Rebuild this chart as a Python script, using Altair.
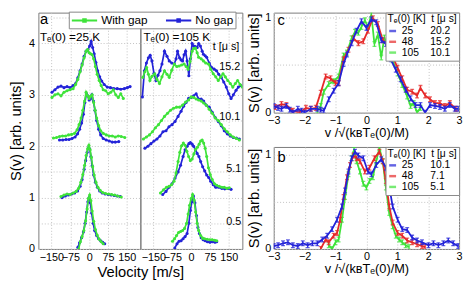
import altair as alt
import pandas as pd

# ---------------- Panel a : Te(0) = 25 K (left half) ----------------
AL_T05_NOGAP_V = [-45, -38, -30, -23, -16, -10, -5, 0, 5, 10, 16, 22, 30, 38, 46, 54, 62]
AL_T05_NOGAP_Y = [0.03, 0.12, 0.22, 0.33, 0.5, 0.72, 0.92, 1.0, 0.9, 0.7, 0.5, 0.36, 0.26, 0.2, 0.16, 0.13, 0.1]
AL_T05_GAP_V = [-42, -35, -28, -21, -14, -8, -3, 2, 7, 12, 18, 25, 32, 40, 48, 56]
AL_T05_GAP_Y = [0.0, 0.14, 0.24, 0.36, 0.55, 0.78, 0.98, 1.05, 0.94, 0.74, 0.54, 0.38, 0.27, 0.19, 0.14, 0.1]

AL_T51_NOGAP_V = [-108, -95, -82, -70, -58, -46, -36, -28, -20, -14, -8, -3, 2, 7, 12, 18, 25, 33, 42, 52, 64, 76, 88, 100, 112, 124]
AL_T51_NOGAP_Y = [1.0, 1.03, 1.05, 1.07, 1.09, 1.13, 1.22, 1.35, 1.55, 1.72, 1.88, 1.97, 1.95, 1.8, 1.62, 1.44, 1.3, 1.2, 1.13, 1.09, 1.07, 1.06, 1.05, 1.04, 1.03, 1.02]
AL_T51_GAP_V = [-112, -100, -88, -76, -64, -52, -42, -33, -25, -18, -12, -6, -1, 4, 9, 14, 20, 27, 35, 44, 54, 66, 78, 90, 102, 114, 128]
AL_T51_GAP_Y = [1.02, 1.05, 1.07, 1.06, 1.09, 1.12, 1.18, 1.3, 1.45, 1.63, 1.82, 1.95, 2.02, 1.93, 1.78, 1.6, 1.44, 1.3, 1.2, 1.14, 1.1, 1.08, 1.07, 1.06, 1.05, 1.03, 1.01]

AL_T101_NOGAP_V = [-118, -105, -92, -80, -68, -56, -46, -38, -30, -23, -17, -11, -5, 0, 5, 11, 17, 23, 30, 38, 46, 56, 68, 80, 92, 104, 118]
AL_T101_NOGAP_Y = [2.12, 2.12, 2.13, 2.13, 2.15, 2.18, 2.24, 2.33, 2.45, 2.62, 2.85, 3.02, 2.98, 2.9, 2.92, 3.0, 2.88, 2.7, 2.5, 2.33, 2.22, 2.15, 2.12, 2.1, 2.08, 2.08, 2.09]
AL_T101_GAP_V = [-142, -130, -118, -106, -94, -82, -70, -58, -48, -40, -32, -25, -18, -12, -6, 0, 6, 12, 18, 24, 30, 38, 46, 56, 68, 80, 92, 104, 116, 128, 142]
AL_T101_GAP_Y = [2.16, 2.17, 2.19, 2.2, 2.2, 2.22, 2.23, 2.25, 2.32, 2.42, 2.55, 2.7, 2.88, 3.05, 2.98, 2.93, 2.97, 3.0, 2.85, 2.7, 2.55, 2.4, 2.3, 2.25, 2.22, 2.2, 2.2, 2.18, 2.2, 2.19, 2.17]

AL_T152_NOGAP_V = [-148, -136, -124, -112, -100, -88, -76, -64, -54, -45, -36, -28, -20, -12, -5, 2, 8, 14, 20, 27, 34, 42, 50, 60, 72, 85, 98, 112, 126, 140, 152, 163]
AL_T152_NOGAP_Y = [3.05, 3.1, 3.15, 3.17, 3.14, 3.16, 3.14, 3.18, 3.22, 3.33, 3.47, 3.6, 3.75, 3.85, 3.88, 3.95, 4.04, 3.92, 3.8, 3.63, 3.47, 3.35, 3.27, 3.2, 3.15, 3.14, 3.12, 3.12, 3.11, 3.12, 3.14, 3.16]
AL_T152_GAP_V = [-148, -136, -124, -112, -100, -88, -76, -64, -54, -45, -36, -28, -20, -12, -6, 0, 6, 12, 18, 25, 32, 40, 48, 56, 66, 76, 86, 96, 106, 116, 126, 136]
AL_T152_GAP_Y = [2.95, 3.0, 3.02, 2.98, 3.05, 3.08, 3.1, 3.12, 3.2, 3.3, 3.45, 3.58, 3.72, 3.85, 3.88, 3.82, 3.8, 3.78, 3.7, 3.55, 3.4, 3.28, 3.18, 3.1, 3.08, 3.02, 3.05, 3.1, 3.0, 2.95, 3.02, 2.93]

# ---------------- Panel a : Te(0) = 105 K (right half) ----------------
AR_T05_NOGAP_V = [-65, -56, -48, -40, -32, -24, -16, -9, -3, 3, 9, 15, 21, 27, 33, 40, 48, 56, 65, 75, 85, 95, 102]
AR_T05_NOGAP_Y = [0.02, 0.1, 0.15, 0.16, 0.2, 0.24, 0.3, 0.5, 0.75, 0.92, 1.03, 0.9, 0.65, 0.42, 0.3, 0.22, 0.18, 0.16, 0.14, 0.13, 0.14, 0.13, 0.14]
AR_T05_GAP_V = [-74, -66, -58, -50, -42, -34, -26, -18, -12, -6, 0, 6, 12, 18, 24, 30, 38, 46, 54, 64, 74, 84, 94, 102]
AR_T05_GAP_Y = [0.15, 0.2, 0.26, 0.32, 0.34, 0.36, 0.4, 0.5, 0.68, 0.85, 0.98, 1.06, 0.95, 0.72, 0.5, 0.36, 0.26, 0.21, 0.2, 0.19, 0.18, 0.18, 0.17, 0.16]

AR_T51_NOGAP_V = [-113, -100, -88, -76, -64, -52, -42, -32, -24, -16, -9, -3, 4, 10, 17, 24, 31, 38, 46, 54, 62, 70, 78, 88, 98, 110, 122, 134, 146, 159]
AR_T51_NOGAP_Y = [1.06, 1.12, 1.2, 1.27, 1.38, 1.5, 1.63, 1.8, 1.93, 2.0, 2.05, 2.07, 2.04, 2.0, 1.93, 1.86, 1.8, 1.7, 1.6, 1.52, 1.44, 1.39, 1.32, 1.25, 1.2, 1.2, 1.18, 1.17, 1.18, 1.16]
AR_T51_GAP_V = [-122, -110, -98, -88, -78, -68, -60, -52, -45, -38, -31, -24, -17, -10, -3, 4, 11, 18, 25, 32, 38, 44, 50, 56, 62, 69, 76, 84, 93, 102, 112, 122, 132, 142, 152]
AR_T51_GAP_Y = [1.09, 1.15, 1.2, 1.22, 1.25, 1.32, 1.48, 1.7, 1.88, 2.01, 2.06, 2.02, 1.9, 1.8, 1.72, 1.75, 1.85, 1.94, 1.98, 2.04, 2.1, 2.12, 2.06, 1.96, 1.8, 1.58, 1.45, 1.35, 1.27, 1.24, 1.22, 1.2, 1.2, 1.18, 1.19]

AR_T101_NOGAP_V = [-184, -172, -160, -148, -136, -124, -112, -100, -88, -76, -64, -52, -40, -30, -20, -10, 0, 10, 20, 30, 40, 50, 60, 72, 84, 96, 108, 120, 132, 144, 156, 168, 180, 192]
AR_T101_NOGAP_Y = [1.96, 2.0, 2.05, 2.1, 2.14, 2.2, 2.28, 2.3, 2.38, 2.42, 2.48, 2.58, 2.68, 2.78, 2.85, 2.93, 2.95, 2.98, 3.02, 2.92, 2.92, 2.88, 2.8, 2.76, 2.66, 2.56, 2.48, 2.4, 2.3, 2.24, 2.2, 2.17, 2.16, 2.14]
AR_T101_GAP_V = [-190, -178, -166, -154, -142, -130, -118, -106, -94, -82, -70, -58, -46, -34, -22, -10, 0, 10, 20, 30, 40, 50, 60, 72, 84, 96, 108, 120, 132, 144, 156, 168, 180, 192]
AR_T101_GAP_Y = [2.14, 2.18, 2.22, 2.28, 2.36, 2.42, 2.5, 2.58, 2.64, 2.7, 2.74, 2.76, 2.76, 2.8, 2.86, 2.9, 2.96, 2.95, 2.92, 2.9, 2.88, 2.84, 2.8, 2.72, 2.64, 2.55, 2.5, 2.42, 2.34, 2.28, 2.22, 2.18, 2.15, 2.12]

AR_T152_NOGAP_V = [-194, -186, -178, -170, -163, -156, -148, -140, -132, -124, -116, -106, -96, -87, -77, -67, -60, -54, -46, -40, -34, -28, -22, -16, -9, -3, 4, 10, 17, 24, 30, 37, 44, 49, 56, 62, 72, 82, 92, 101, 110, 120, 130, 140, 150, 159, 168, 179, 188, 198]
AR_T152_NOGAP_Y = [2.96, 3.47, 3.62, 3.72, 3.77, 3.66, 3.42, 3.28, 3.38, 3.47, 3.6, 3.85, 3.75, 3.66, 3.62, 3.6, 3.7, 3.85, 3.72, 3.68, 3.66, 3.78, 3.85, 3.66, 3.37, 3.7, 4.0, 3.95, 3.94, 3.92, 4.0, 3.95, 3.85, 3.79, 3.76, 3.73, 3.62, 3.53, 3.5, 3.47, 3.4, 3.34, 3.25, 3.15, 3.02, 2.93, 3.0, 3.09, 3.15, 3.18]
AR_T152_GAP_V = [-192, -184, -177, -170, -164, -156, -145, -136, -126, -116, -106, -96, -87, -77, -67, -57, -48, -38, -28, -20, -12, -4, 4, 10, 17, 24, 30, 40, 49, 58, 69, 78, 88, 98, 108, 118, 127, 136, 146, 156, 166, 176, 185, 195, 204]
AR_T152_GAP_Y = [3.34, 3.45, 3.53, 3.4, 3.28, 3.36, 3.41, 3.3, 3.22, 3.35, 3.47, 3.4, 3.34, 3.48, 3.6, 3.55, 3.56, 3.58, 3.6, 3.55, 3.5, 3.65, 3.85, 3.9, 3.91, 3.82, 3.73, 3.7, 3.66, 3.62, 3.6, 3.5, 3.41, 3.35, 3.28, 3.35, 3.41, 3.35, 3.28, 3.22, 3.15, 3.22, 3.28, 3.2, 3.15]

# ---------------- Panel c ----------------
C_25_V = [-3.0, -2.86, -2.75, -2.59, -2.48, -2.38, -2.22, -2.1, -2.0, -1.8, -1.59, -1.48, -1.38, -1.22, -1.06, -0.9, -0.74, -0.63, -0.48, -0.32, -0.16, 0.0, 0.16, 0.32, 0.48, 0.63, 0.79, 0.95, 1.11, 1.27, 1.43, 1.59, 1.75, 1.9, 2.06, 2.22, 2.38, 2.54, 2.7, 2.86, 2.97]
C_25_S = [0.07, 0.05, 0.04, 0.07, 0.03, 0.0, 0.04, 0.02, 0.0, 0.04, 0.04, 0.03, 0.02, 0.14, 0.23, 0.31, 0.51, 0.61, 0.73, 0.86, 0.96, 0.89, 0.98, 0.95, 0.76, 0.72, 0.56, 0.45, 0.35, 0.24, 0.15, 0.08, 0.08, 0.0, 0.08, 0.07, 0.06, 0.04, 0.08, 0.04, 0.04]
C_48_V = [-2.95, -2.75, -2.59, -2.38, -2.17, -1.96, -1.8, -1.64, -1.48, -1.32, -1.16, -1.0, -0.9, -0.74, -0.58, -0.42, -0.26, -0.1, 0.05, 0.21, 0.37, 0.53, 0.69, 0.85, 1.01, 1.16, 1.32, 1.48, 1.64, 1.75, 1.9, 2.06, 2.22, 2.38, 2.54, 2.7, 2.9]
C_48_S = [0.06, 0.09, 0.08, 0.02, 0.0, 0.05, 0.04, 0.05, 0.21, 0.38, 0.36, 0.31, 0.31, 0.56, 0.66, 0.78, 0.73, 0.75, 0.86, 0.99, 0.93, 0.76, 0.72, 0.59, 0.47, 0.36, 0.24, 0.22, 0.18, 0.26, 0.18, 0.14, 0.1, 0.1, 0.07, 0.1, 0.04]
C_105_V = [-1.59, -1.48, -1.38, -1.22, -1.06, -0.9, -0.74, -0.63, -0.48, -0.37, -0.26, -0.16, -0.05, 0.05, 0.16, 0.26, 0.37, 0.48, 0.58, 0.69, 0.85, 1.01, 1.16, 1.32, 1.43, 1.53, 1.64, 1.75]
C_105_S = [0.02, 0.07, 0.22, 0.3, 0.33, 0.38, 0.6, 0.63, 0.78, 0.85, 0.84, 0.9, 0.97, 0.9, 1.03, 0.72, 0.82, 0.58, 0.79, 0.69, 0.55, 0.41, 0.29, 0.17, 0.07, 0.1, 0.0, 0.05]
C_TIMES = {"25": "20.2", "48": "15.2", "105": "10.1"}

# ---------------- Panel b ----------------
B_25_V = [-3.0, -2.86, -2.7, -2.54, -2.38, -2.22, -2.06, -1.9, -1.75, -1.59, -1.43, -1.27, -1.11, -0.95, -0.79, -0.69, -0.58, -0.48, -0.37, -0.26, -0.1, 0.05, 0.16, 0.32, 0.48, 0.63, 0.74, 0.85, 1.01, 1.16, 1.32, 1.48, 1.64, 1.8, 2.01, 2.17, 2.33, 2.49, 2.65, 2.81, 2.97]
B_25_S = [0.03, 0.04, 0.06, 0.07, 0.04, 0.03, 0.06, 0.04, 0.06, 0.06, 0.1, 0.14, 0.21, 0.31, 0.45, 0.62, 0.82, 0.96, 1.03, 0.99, 0.96, 0.82, 0.79, 0.89, 0.95, 0.86, 0.66, 0.45, 0.31, 0.21, 0.2, 0.12, 0.09, 0.07, 0.04, 0.06, 0.04, 0.06, 0.09, 0.06, 0.03]
B_48_V = [-1.48, -1.32, -1.22, -1.06, -0.95, -0.85, -0.74, -0.63, -0.53, -0.42, -0.32, -0.21, -0.05, 0.1, 0.26, 0.42, 0.53, 0.63, 0.74, 0.85, 1.01, 1.16, 1.32, 1.48, 1.64, 1.8, 1.9]
B_48_S = [0.0, 0.1, 0.07, 0.14, 0.17, 0.31, 0.55, 0.76, 0.89, 0.99, 0.96, 0.93, 0.82, 0.86, 0.96, 1.03, 0.93, 0.72, 0.45, 0.28, 0.17, 0.14, 0.09, 0.07, 0.05, 0.03, 0.02]
B_105_V = [-1.22, -1.11, -1.0, -0.9, -0.79, -0.69, -0.58, -0.48, -0.4, -0.32, -0.21, -0.1, 0.0, 0.1, 0.21, 0.32, 0.42, 0.53, 0.63, 0.74, 0.85, 0.95, 1.06, 1.16, 1.27, 1.38]
B_105_S = [0.04, 0.0, 0.07, 0.1, 0.31, 0.55, 0.79, 0.96, 1.05, 0.93, 0.82, 0.69, 0.65, 0.72, 0.76, 0.93, 1.07, 0.93, 0.65, 0.38, 0.24, 0.14, 0.1, 0.07, 0.04, 0.02]
B_TIMES = {"25": "10.1", "48": "7.1", "105": "5.1"}
ERR = 0.025

# annotation texts for panel a
AL_TXT = ["a", "Tₑ(0) =25 K"]
AL_TX = [-196, -196]
AL_TY = [4.48, 4.12]
AL_TS = [15, 12]
AR_TXT = ["Tₑ(0) =105 K", "t [μ s]", "15.2", "10.1", "5.1", "0.5"]
AR_TX = [-190, 86, 112, 112, 140, 140]
AR_TY = [4.12, 3.93, 3.55, 2.56, 1.55, 0.52]
AR_TS = [12, 11, 11, 11, 11, 11]

BLUE = "#2323d8"
GREEN = "#3fe33a"
RED = "#e62a2a"
FONT = "Liberation Sans"
GRID = dict(grid=True, gridColor="#c2c2c2", gridDash=[1, 2], gridWidth=1, ticks=False, domain=False,
            labelOverlap=False, labelFlush=False, labelBound=False)
YTITLE = "S(v) [arb. units]"
VTITLE = "Velocity [m/s]"
NB = "\u00a0"
FS = "\u2007"


def a_frame(curves):
    rows = []
    for t, series, vs, ys in curves:
        for v, y in zip(vs, ys):
            rows.append({"v": v, "y": y, "t": t, "series": series})
    return pd.DataFrame(rows)


AL_DF = a_frame([
    ("0.5", "No gap", AL_T05_NOGAP_V, AL_T05_NOGAP_Y), ("0.5", "With gap", AL_T05_GAP_V, AL_T05_GAP_Y),
    ("5.1", "No gap", AL_T51_NOGAP_V, AL_T51_NOGAP_Y), ("5.1", "With gap", AL_T51_GAP_V, AL_T51_GAP_Y),
    ("10.1", "No gap", AL_T101_NOGAP_V, AL_T101_NOGAP_Y), ("10.1", "With gap", AL_T101_GAP_V, AL_T101_GAP_Y),
    ("15.2", "No gap", AL_T152_NOGAP_V, AL_T152_NOGAP_Y), ("15.2", "With gap", AL_T152_GAP_V, AL_T152_GAP_Y),
])
AR_DF = a_frame([
    ("0.5", "No gap", AR_T05_NOGAP_V, AR_T05_NOGAP_Y), ("0.5", "With gap", AR_T05_GAP_V, AR_T05_GAP_Y),
    ("5.1", "No gap", AR_T51_NOGAP_V, AR_T51_NOGAP_Y), ("5.1", "With gap", AR_T51_GAP_V, AR_T51_GAP_Y),
    ("10.1", "No gap", AR_T101_NOGAP_V, AR_T101_NOGAP_Y), ("10.1", "With gap", AR_T101_GAP_V, AR_T101_GAP_Y),
    ("15.2", "No gap", AR_T152_NOGAP_V, AR_T152_NOGAP_Y), ("15.2", "With gap", AR_T152_GAP_V, AR_T152_GAP_Y),
])

A_XDOM = [-202, 204]
A_YDOM = [0, 4.6]
A_W, A_H = 104, 241


def a_panel(df, left, txt, tx, ty, ts):
    xaxis = dict(values=[-150, -75, 0, 75, 150], labelFontSize=11, labelPadding=3, **GRID)
    if left:
        xaxis.update(title=VTITLE, titleFontSize=15, titlePadding=2, titleX=A_W, titleAlign="center")
    else:
        xaxis.update(title=None)
    yaxis = dict(values=[0, 0.5, 1, 1.5, 2, 2.5, 3, 3.5, 4, 4.5], **GRID)
    if left:
        yaxis.update(labelExpr="datum.value % 1 === 0 ? format(datum.value, 'd') : ''",
                     labelFontSize=11, labelPadding=4, title=YTITLE,
                     titleFontSize=15, titlePadding=5)
    else:
        yaxis.update(labels=False, title=None)
    xs = alt.Scale(domain=A_XDOM, nice=False, zero=False)
    ys = alt.Scale(domain=A_YDOM, nice=False, zero=False)
    x = alt.X("v:Q", scale=xs, title=VTITLE, axis=alt.Axis(**xaxis))
    y = alt.Y("y:Q", scale=ys, title=YTITLE, axis=alt.Axis(**yaxis))
    cscale = alt.Scale(domain=["With gap", "No gap"], range=[GREEN, BLUE])
    if left:
        leg = None
    else:
        leg = alt.Legend(title=None, orient="none", legendX=-73, legendY=-1, direction="horizontal",
                         symbolType="M-2.15,0H2.15M-0.22,-0.22H0.22V0.22H-0.22Z", symbolSize=144,
                         symbolStrokeWidth=2, symbolOffset=7, labelFontSize=12, labelFont=FONT, padding=2,
                         strokeColor="#8a8a8a", fillColor="white", columnPadding=14, labelOffset=10,
                         labelColor="black")
    layers = []
    for series in ["No gap", "With gap"]:
        layers.append(
            alt.Chart(df).transform_filter(alt.datum.series == series).mark_line(
                strokeWidth=1.7, clip=True,
                point=alt.OverlayMarkDef(filled=True, size=10, clip=True)
            ).encode(x=x, y=y, color=alt.Color("series:N", scale=cscale, legend=leg), detail="t:N")
        )
    tdf = pd.DataFrame({"txt": txt, "v": tx, "y": ty, "fs": ts})
    layers.append(
        alt.Chart(tdf).mark_text(align="left", baseline="middle", font=FONT, color="black").encode(
            x=x, y=y, text="txt:N", size=alt.Size("fs:Q", scale=None, legend=None))
    )
    return alt.layer(*layers).properties(width=A_W, height=A_H)


def cb_frame(parts):
    rows = []
    for T, vs, ss in parts:
        for v, s in zip(vs, ss):
            rows.append({"v": v, "s": s, "lo": s - ERR, "hi": s + ERR, "T": T})
    return pd.DataFrame(rows)


C_DF = cb_frame([("25", C_25_V, C_25_S), ("48", C_48_V, C_48_S), ("105", C_105_V, C_105_S)])
B_DF = cb_frame([("25", B_25_V, B_25_S), ("48", B_48_V, B_48_S), ("105", B_105_V, B_105_S)])
XTITLE = "v /√(kʙTₑ(0)/M)"


def cb_panel(df, ymax, h, letter, times):
    yscale = alt.Scale(domain=[0, ymax], nice=False, zero=False)
    xscale = alt.Scale(domain=[-3, 3], nice=False, zero=False)
    xax = alt.Axis(values=[-3, -2, -1, 0, 1, 2, 3], labelFontSize=11, labelPadding=2,
                   title=XTITLE, titleFontSize=13, titlePadding=1, **GRID)
    yax = alt.Axis(values=[0, 0.5, 1], labelExpr="datum.value === 0.5 ? '' : format(datum.value, 'd')",
                   labelFontSize=11, labelPadding=3, title=YTITLE,
                   titleFontSize=15, titlePadding=3, **GRID)
    x = alt.X("v:Q", scale=xscale, title=XTITLE, axis=xax)
    y = alt.Y("s:Q", scale=yscale, title=YTITLE, axis=yax)
    cscale = alt.Scale(domain=["25", "48", "105"], range=[BLUE, RED, GREEN])
    pad = {"25": FS * 3, "48": FS * 3, "105": FS * 2}
    expr = " : ".join(f"datum.label === '{k}' ? '{k}{pad[k]}{v}'" for k, v in times.items()) + " : datum.label"
    leg = alt.Legend(title="Tₑ(0) [K]" + NB * 2 + "t [μ s]", orient="top-right", offset=0, padding=2,
                     strokeColor="#8a8a8a", fillColor="white", titleFontSize=10.5, titleFontWeight="normal",
                     titleFont=FONT, labelFont=FONT, labelFontSize=10.5, labelExpr=expr, symbolType="stroke",
                     symbolSize=49, symbolStrokeWidth=2.5, rowPadding=0, titlePadding=1, labelOffset=4,
                     labelColor="black", titleColor="black")
    color = alt.Color("T:N", scale=cscale, legend=leg)
    layers = []
    for T in ["105", "48", "25"]:
        sub = alt.Chart(df).transform_filter(alt.datum.T == T)
        layers.append(sub.mark_line(strokeWidth=1.8, clip=True).encode(x=x, y=y, color=color))
        layers.append(sub.mark_errorbar(ticks=True, size=4, thickness=1.3, clip=True).encode(
            x=x,
            y=alt.Y("lo:Q", scale=yscale, title=YTITLE, axis=yax),
            y2=alt.Y2("hi:Q", title=YTITLE),
            color=color))
    ldf = pd.DataFrame({"txt": [letter], "v": [-2.88], "s": [0.97]})
    layers.append(alt.Chart(ldf).mark_text(align="left", baseline="middle", font=FONT, fontSize=15,
                                           color="black").encode(x=x, y=y, text="txt:N"))
    return alt.layer(*layers).properties(width=189, height=h)


aL = a_panel(AL_DF, True, AL_TXT, AL_TX, AL_TY, AL_TS)
aR = a_panel(AR_DF, False, AR_TXT, AR_TX, AR_TY, AR_TS)
c = cb_panel(C_DF, 1.05, 102, "c", C_TIMES)
b = cb_panel(B_DF, 1.08, 104, "b", B_TIMES)

left = alt.hconcat(aL, aR, spacing=0, bounds="flush").resolve_scale(color="independent").resolve_legend(color="independent")
right = alt.vconcat(c, b, spacing=35, bounds="flush").resolve_scale(color="independent").resolve_legend(color="independent")
chart = alt.hconcat(left, right, spacing=3).resolve_scale(color="independent").resolve_legend(
    color="independent").properties(padding=0).configure(font=FONT).configure_view(
    stroke="#7a7a7a", strokeWidth=1).configure_axis(labelColor="black", titleColor="black",
                                                    titleFontWeight="normal", labelFont=FONT, titleFont=FONT,
                                                    labelOverlap=False)

chart.save("out.html", embed_options={"renderer": "svg", "actions": False})
